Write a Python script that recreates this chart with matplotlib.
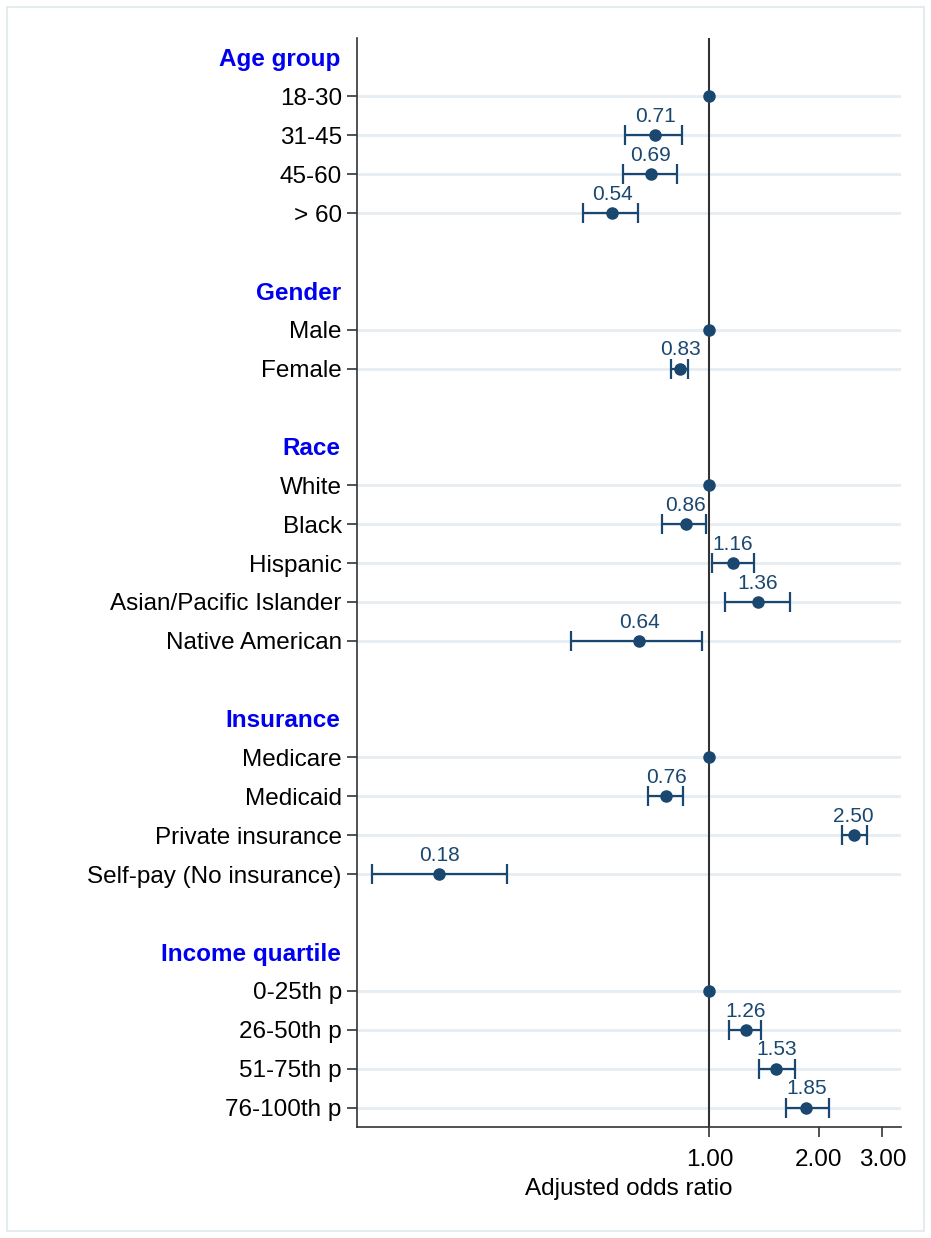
import matplotlib.pyplot as plt
import matplotlib.patches as mpatches
import numpy as np

plt.rcParams['font.family'] = ['Liberation Sans', 'DejaVu Sans']

# odds ratios with 95% CI, first level of each group is the reference
group_names = ["Age group", "Gender", "Race", "Insurance", "Income quartile"]

age_labels = ["18-30", "31-45", "45-60", "> 60"]
age_or = [1.00, 0.71, 0.69, 0.54]
age_lo = [1.00, 0.585, 0.579, 0.448]
age_hi = [1.00, 0.842, 0.813, 0.635]

gender_labels = ["Male", "Female"]
gender_or = [1.00, 0.83]
gender_lo = [1.00, 0.785]
gender_hi = [1.00, 0.874]

race_labels = ["White", "Black", "Hispanic", "Asian/Pacific Islander", "Native American"]
race_or = [1.00, 0.86, 1.16, 1.36, 0.64]
race_lo = [1.00, 0.739, 1.014, 1.101, 0.414]
race_hi = [1.00, 0.976, 1.323, 1.664, 0.955]

ins_labels = ["Medicare", "Medicaid", "Private insurance", "Self-pay (No insurance)"]
ins_or = [1.00, 0.76, 2.50, 0.18]
ins_lo = [1.00, 0.677, 2.32, 0.117]
ins_hi = [1.00, 0.846, 2.72, 0.276]

inc_labels = ["0-25th p", "26-50th p", "51-75th p", "76-100th p"]
inc_or = [1.00, 1.26, 1.53, 1.85]
inc_lo = [1.00, 1.135, 1.374, 1.63]
inc_hi = [1.00, 1.391, 1.718, 2.14]

groups = [
    (age_labels, age_or, age_lo, age_hi),
    (gender_labels, gender_or, gender_lo, gender_hi),
    (race_labels, race_or, race_lo, race_hi),
    (ins_labels, ins_or, ins_lo, ins_hi),
    (inc_labels, inc_or, inc_lo, inc_hi),
]

navy = "#1a476f"

fig = plt.figure(figsize=(9.31, 12.38), dpi=100)
ax = fig.add_axes([0.3835, 0.0897, 0.5845, 0.8796])

# outer frame
fig.patches.append(mpatches.Rectangle((0.008, 0.006), 0.984, 0.988, transform=fig.transFigure,
                                      fill=False, edgecolor="#dfe9ee", linewidth=1.2))

pos = 0
tick_pos = []
tick_lab = []
header_pos = []
for name, (labs, ors, los, his) in zip(group_names, groups):
    header_pos.append(pos)
    pos += 1
    for lab, o, lo, hi in zip(labs, ors, los, his):
        tick_pos.append(pos)
        tick_lab.append(lab)
        ax.axhline(pos, color="#e6eef3", lw=2, zorder=0)
        if o != 1.0:
            ax.errorbar(o, pos, xerr=[[o - lo], [hi - o]], fmt="none", ecolor=navy,
                        elinewidth=1.6, capsize=7, capthick=1.6, zorder=2)
            ax.text(o, pos - 0.34, "%.2f" % o, ha="center", va="baseline",
                    fontsize=15, color=navy)
        ax.plot(o, pos, "o", color=navy, markersize=8, zorder=3)
        pos += 1
    pos += 1

ax.axvline(1.0, color="#333333", lw=1.5, zorder=1)

ax.set_xscale("log")
ax.set_xlim(0.1067, 3.38)
ax.set_ylim(pos - 1.5, -0.5)

ax.set_yticks(tick_pos)
ax.set_yticklabels(tick_lab, fontsize=17.5)
ax.set_xticks([1, 2, 3])
ax.set_xticklabels(["1.00", "2.00", "3.00"], fontsize=17.5)
ax.xaxis.set_minor_locator(plt.NullLocator())
ax.tick_params(axis="both", length=7, width=1.2, color="#333333", pad=4)
ax.tick_params(axis="x", pad=9)

for hp, name in zip(header_pos, group_names):
    ax.text(-0.03, hp + 0.06, name, transform=ax.get_yaxis_transform(), ha="right", va="center",
            fontsize=17.5, fontweight="bold", color="#0000ee")

ax.set_xlabel("Adjusted odds ratio", fontsize=17.5, labelpad=5)

for s in ["top", "right"]:
    ax.spines[s].set_visible(False)
for s in ["left", "bottom"]:
    ax.spines[s].set_linewidth(1.2)
    ax.spines[s].set_color("#333333")

fig.savefig("out.png", dpi=100, facecolor="white")
